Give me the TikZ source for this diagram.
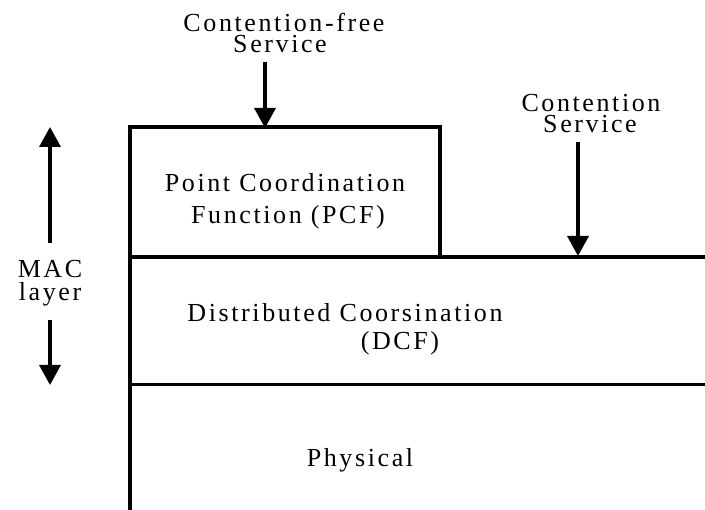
\documentclass[tikz,border=0pt]{standalone}
\usepackage{fontspec}
\setmainfont{Liberation Serif}[LetterSpace=10]
\usetikzlibrary{arrows.meta}
\tikzset{
  lbl/.style={anchor=base, inner sep=0pt, font=\fontsize{26}{30}\selectfont},
  wall/.style={line width=3.5pt, line cap=butt},
  arr/.style={line width=3.5pt, -{Triangle[width=21pt,length=20pt]}}
}
\begin{document}
\begin{tikzpicture}[x=1pt,y=-1pt]
\useasboundingbox (0,0) rectangle (705,510);
% coordinates
\coordinate (boxTL) at (130,127);
\coordinate (boxTR) at (440,127);
\coordinate (boxBR) at (440,257);
\coordinate (midL) at (130,257);
\coordinate (midR) at (705,257);
\coordinate (lowL) at (130,385);
\coordinate (lowR) at (705,385);
\coordinate (bot) at (130,512);
% structure
\draw[wall] (bot) -- (boxTL) -- (boxTR) -- (boxBR);
\draw[line width=4.5pt] (midL) -- (midR);
\draw[line width=3pt] (lowL) -- (lowR);
% texts
\node[lbl] (cf1) at (284,32) {Contention-free};
\node[lbl] (cf2) at (280,53) {Service};
\node[lbl] (cs1) at (591,112) {Contention};
\node[lbl] (cs2) at (590,133) {Service};
\node[lbl] (pcf1) at (285,192) {Point Coordination};
\node[lbl] (pcf2) at (288,224) {Function (PCF)};
\node[lbl] (dcf1) at (345,322) {Distributed Coorsination};
\node[lbl] (dcf2) at (400,350) {(DCF)};
\node[lbl] (mac1) at (50,278) {MAC};
\node[lbl] (mac2) at (50,301) {layer};
\node[lbl] (phy) at (360,467) {Physical};
% arrows
\coordinate (cfS) at (265,62);
\coordinate (cfE) at (265,128);
\coordinate (csS) at (578,142);
\coordinate (csE) at (578,256);
\coordinate (upS) at (50,243);
\coordinate (upE) at (50,127);
\coordinate (dnS) at (50,320);
\coordinate (dnE) at (50,385);
\draw[arr] (cfS) -- (cfE);
\draw[arr] (csS) -- (csE);
\draw[arr] (upS) -- (upE);
\draw[arr] (dnS) -- (dnE);
\end{tikzpicture}
\end{document}
